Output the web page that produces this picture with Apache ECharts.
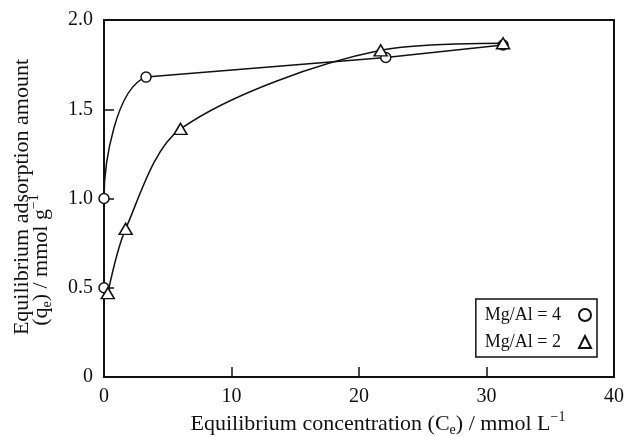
<!DOCTYPE html>
<html>
<head>
<meta charset="utf-8">
<script src="https://cdn.jsdelivr.net/npm/echarts@6/dist/echarts.min.js"></script>
<style>
  html, body { margin: 0; padding: 0; background: #fff; }
  #chart { width: 628px; height: 437px; }
</style>
</head>
<body>
<div id="chart"></div>
<script>
// Adsorption isotherms for two Mg/Al ratios
const seriesNames = ['Mg/Al = 4', 'Mg/Al = 2'];

// Mg/Al = 4 (circles)
const ce4 = [0, 0, 3.3, 22.1, 31.3];
const qe4 = [0.50, 1.00, 1.68, 1.79, 1.86];
// the Mg/Al = 4 trace is curved up to this point and straight after it
const bend4 = 2;

// Mg/Al = 2 (triangles)
const ce2 = [0.3, 1.7, 6.0, 21.7, 31.3];
const qe2 = [0.47, 0.83, 1.39, 1.83, 1.87];

const xTicks = [0, 10, 20, 30, 40];
const yTicks = [0, 0.5, 1.0, 1.5, 2.0];

const FONT = '"Liberation Serif", "Times New Roman", serif';
const INK = '#111';

const pairs = (xs, ys) => xs.map((x, i) => [x, ys[i]]);

// rich styles for axis titles with sub/superscripts
const titleRich = {
  n:   { fontFamily: FONT, fontSize: 22, lineHeight: 27, fill: INK, color: INK },
  sub: { fontFamily: FONT, fontSize: 14, lineHeight: 14, verticalAlign: 'bottom', fill: INK, color: INK },
  sup: { fontFamily: FONT, fontSize: 14, lineHeight: 14, verticalAlign: 'top', fill: INK, color: INK }
};

const W = 628;
const chart = echarts.init(document.getElementById('chart'), null, { renderer: 'canvas' });

const trace = (data, smooth) => ({
  type: 'line',
  data: data,
  smooth: smooth,
  symbol: 'none',
  clip: true,
  silent: true,
  lineStyle: { color: INK, width: 1.5 },
  emphasis: { disabled: true },
  z: 2
});

const markers = (name, xs, ys, symbol, size) => ({
  name: name,
  type: 'scatter',
  data: pairs(xs, ys),
  symbol: symbol,
  symbolSize: size,
  itemStyle: { color: '#fff', borderColor: INK, borderWidth: 1.5, opacity: 1 },
  emphasis: { disabled: true },
  z: 3
});

const data4 = pairs(ce4, qe4);

chart.setOption({
  animation: false,
  backgroundColor: '#fff',
  grid: {
    left: 104, right: 14, top: 20, bottom: 60,
    show: true, borderColor: INK, borderWidth: 2, backgroundColor: 'transparent'
  },
  xAxis: {
    type: 'value',
    min: xTicks[0], max: xTicks[xTicks.length - 1], interval: 10,
    axisLine: { show: true, lineStyle: { color: INK, width: 2 } },
    axisTick: { show: true, inside: true, length: 10, lineStyle: { color: INK, width: 1.5 } },
    splitLine: { show: false },
    axisLabel: { color: INK, fontFamily: FONT, fontSize: 20, margin: 10 }
  },
  yAxis: {
    type: 'value',
    min: yTicks[0], max: yTicks[yTicks.length - 1], interval: 0.5,
    axisLine: { show: true, lineStyle: { color: INK, width: 2 } },
    axisTick: { show: true, inside: true, length: 10, lineStyle: { color: INK, width: 1.5 } },
    splitLine: { show: false },
    axisLabel: {
      color: INK, fontFamily: FONT, fontSize: 20, margin: 11,
      formatter: v => (v === 0 ? '0' : v.toFixed(1))
    }
  },
  legend: {
    orient: 'vertical',
    right: 31, top: 299,
    align: 'right',
    itemWidth: 12, itemHeight: 12, itemGap: 9,
    padding: [7, 5, 6, 9],
    borderColor: INK, borderWidth: 1.5, backgroundColor: '#fff',
    selectedMode: false,
    data: [
      { name: seriesNames[0], icon: 'circle' },
      { name: seriesNames[1], icon: 'triangle' }
    ],
    formatter: name => '{t|' + name + '}',
    textStyle: {
      color: INK, fontFamily: FONT, fontSize: 18, lineHeight: 18,
      rich: { t: { fontFamily: FONT, fontSize: 18, lineHeight: 18, color: INK, padding: [0, 13, 0, 0] } }
    }
  },
  graphic: [
    {
      type: 'text', x: 22, y: 197, rotation: Math.PI / 2, silent: true,
      style: {
        text: '{n|Equilibrium adsorption amount}',
        rich: titleRich,
        align: 'center', verticalAlign: 'middle',
        textAlign: 'center', textVerticalAlign: 'middle'
      }
    },
    {
      type: 'text', x: 41, y: 260, rotation: Math.PI / 2, silent: true,
      style: {
        text: '{n|(q}{sub|e}{n|) / mmol g}{sup|−1}',
        rich: titleRich,
        align: 'center', verticalAlign: 'middle',
        textAlign: 'center', textVerticalAlign: 'middle'
      }
    },
    {
      type: 'text', x: 378, y: 424, silent: true,
      style: {
        text: '{n|Equilibrium concentration (C}{sub|e}{n|) / mmol L}{sup|−1}',
        rich: titleRich,
        align: 'center', verticalAlign: 'middle',
        textAlign: 'center', textVerticalAlign: 'middle'
      }
    }
  ],
  series: [
    trace(data4.slice(0, bend4 + 2), 0.3),   // curved rise of Mg/Al = 4
    trace(data4.slice(bend4), false),         // straight plateau of Mg/Al = 4
    trace(pairs(ce2, qe2), 0.3),              // Mg/Al = 2
    markers(seriesNames[0], ce4, qe4, 'circle', 10),
    markers(seriesNames[1], ce2, qe2, 'triangle', [13, 11])
  ]
});

// The curved rise keeps its tangent from the following point but is only
// inked up to the bend; past it the straight plateau takes over.
const bendPx = chart.convertToPixel({ gridIndex: 0 }, [ce4[bend4], qe4[bend4]])[0];
const f = Math.min(Math.max(bendPx / W, 0), 1);
chart.setOption({
  series: [{
    lineStyle: {
      color: {
        type: 'linear', x: 0, y: 0, x2: W, y2: 0, global: true,
        colorStops: [
          { offset: 0, color: INK },
          { offset: f, color: INK },
          { offset: f, color: 'rgba(0,0,0,0)' },
          { offset: 1, color: 'rgba(0,0,0,0)' }
        ]
      }
    }
  }]
});
</script>
</body>
</html>
